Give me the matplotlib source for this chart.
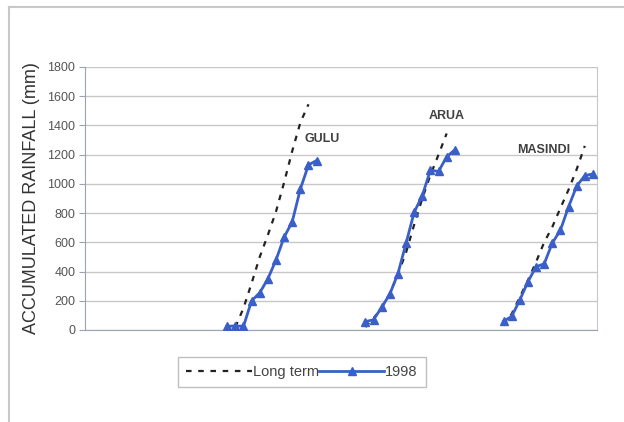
import matplotlib
matplotlib.use("Agg")
import matplotlib.pyplot as plt
from matplotlib.lines import Line2D

plt.rcParams['font.family'] = ['Liberation Sans', 'DejaVu Sans']

# Category positions (1..63) and values
gulu_1998_x = list(range(18, 30))
gulu_1998 = [25, 28, 25, 200, 255, 350, 479, 635, 741, 965, 1130, 1160]
gulu_lt_x = list(range(19, 29))
gulu_lt = [20, 150, 320, 500, 650, 810, 1010, 1225, 1420, 1545]

arua_1998_x = list(range(35, 47))
arua_1998 = [57, 70, 155, 245, 385, 593, 805, 920, 1094, 1085, 1185, 1233]
arua_lt_x = list(range(35, 46))
arua_lt = [20, 80, 150, 250, 380, 530, 720, 900, 1060, 1200, 1345]

masindi_1998_x = list(range(52, 64))
masindi_1998 = [60, 93, 205, 330, 433, 453, 595, 684, 843, 985, 1057, 1068]
masindi_lt_x = list(range(52, 63))
masindi_lt = [30, 110, 225, 340, 465, 600, 705, 835, 960, 1100, 1260]

station_labels = ["GULU", "ARUA", "MASINDI"]
label_pos = [(29.7, 1306), (45.0, 1464), (56.9, 1231)]

yticks = list(range(0, 2000, 200))

fig = plt.figure(figsize=(6.24, 4.22), dpi=100)
fig.patch.set_facecolor('white')

# outer frame
fig.add_artist(Line2D([9/624, 1.0], [1-7/422, 1-7/422], transform=fig.transFigure,
                      color='#c8c8c8', lw=1.5))
fig.add_artist(Line2D([9/624, 9/624], [0, 1-7/422], transform=fig.transFigure,
                      color='#c8c8c8', lw=1.5))

ax = fig.add_axes([85/624, 92/422, 512/624, 263/422])
blue = '#3a5fc8'
lt_color = '#222222'

for xs, ys in [(gulu_lt_x, gulu_lt), (arua_lt_x, arua_lt), (masindi_lt_x, masindi_lt)]:
    ax.plot(xs, ys, color=lt_color, lw=1.6, linestyle=(0, (2.5, 3)), zorder=3)
for xs, ys in [(gulu_1998_x, gulu_1998), (arua_1998_x, arua_1998), (masindi_1998_x, masindi_1998)]:
    ax.plot(xs, ys, color=blue, lw=2, marker='^', markersize=5.5, zorder=4)

for name, (x, y) in zip(station_labels, label_pos):
    ax.text(x, y, name, fontsize=9, fontweight='bold', color='#404040', ha='center', va='center')

ax.set_xlim(0.5, 63.5)
ax.set_ylim(0, 1800)
ax.set_yticks(yticks)
ax.set_xticks([])
ax.yaxis.grid(True, color='#c8c8c8', lw=1)
ax.set_axisbelow(True)
ax.spines['top'].set_visible(False)
ax.spines['right'].set_color('#c8c8c8')
ax.spines['left'].set_color('#9aa4b0')
ax.spines['bottom'].set_color('#9aa4b0')
ax.tick_params(axis='y', colors='#9aa4b0', labelcolor='#555555', labelsize=9, length=4, direction='out', pad=3)
ax.set_ylabel('ACCUMULATED RAINFALL (mm)', fontsize=13, color='#333333', labelpad=5)

handles = [Line2D([], [], color=lt_color, lw=1.6, linestyle=(0, (2.5, 3))),
           Line2D([], [], color=blue, lw=2, marker='^', markersize=5.5)]
leg = fig.legend(handles, ['Long term', '1998'], loc='center', bbox_to_anchor=(302/624, 1-372/422),
                 ncol=2, frameon=True, fancybox=False, edgecolor='#b0b0b0', fontsize=10.5,
                 handlelength=4.5, handletextpad=0.05, columnspacing=0.0, borderpad=0.55)
for t in leg.get_texts():
    t.set_color('#444444')

fig.savefig('out.png', dpi=100)
